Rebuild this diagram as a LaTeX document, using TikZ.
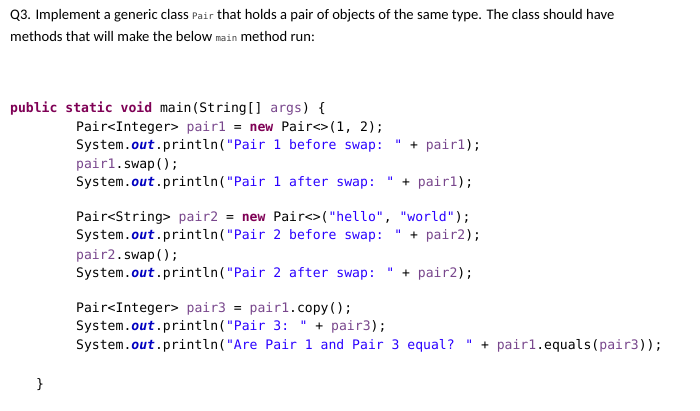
\documentclass[tikz,border=0pt]{standalone}
\usepackage{fontspec}
\setmainfont{Carlito}
\newfontfamily\codefont{DejaVu Sans Mono}
\definecolor{kw}{RGB}{127,0,85}
\definecolor{strc}{RGB}{42,0,255}
\definecolor{varc}{RGB}{120,70,140}
\definecolor{outc}{RGB}{0,0,192}
\newcommand{\K}[1]{\textcolor{kw}{\bfseries #1}}
\newcommand{\Sx}[1]{\textcolor{strc}{#1}}
\newcommand{\V}[1]{\textcolor{varc}{#1}}
\newcommand{\Ox}{\textcolor{outc}{\bfseries\itshape out}}
\tikzset{ln/.style={anchor=base west,inner sep=0pt,font=\codefont\fontsize{13.1pt}{15pt}\selectfont},
hd/.style={anchor=base west,inner sep=0pt,font=\fontsize{14.6pt}{17pt}\selectfont}}
\begin{document}
\begin{tikzpicture}[x=1pt,y=-1pt]
\useasboundingbox[fill=white] (0,0) rectangle (700,411);
\node[hd] (h1) at (10,20) {Q3. Implement a generic class {\codefont\small\color{black!75}Pair} that holds a pair of objects of the same type. The class should have};
\node[hd] (h2) at (10,42) {methods that will make the below {\codefont\small\color{black!75}main} method run:};
\node[ln] (l1) at (10,113) {\K{public} \K{static} \K{void} main(String[] \V{args}) \{};
\node[ln] (l2) at (76,132) {Pair<Integer> \V{pair1} = \K{new} Pair<>(1, 2);};
\node[ln] (l3) at (76,150) {System.\Ox.println(\Sx{"Pair 1 before swap: "} + \V{pair1});};
\node[ln] (l4) at (76,169) {\V{pair1}.swap();};
\node[ln] (l5) at (76,187) {System.\Ox.println(\Sx{"Pair 1 after swap: "} + \V{pair1});};
\node[ln] (l6) at (76,222) {Pair<String> \V{pair2} = \K{new} Pair<>(\Sx{"hello"}, \Sx{"world"});};
\node[ln] (l7) at (76,240) {System.\Ox.println(\Sx{"Pair 2 before swap: "} + \V{pair2});};
\node[ln] (l8) at (76,259) {\V{pair2}.swap();};
\node[ln] (l9) at (76,277) {System.\Ox.println(\Sx{"Pair 2 after swap: "} + \V{pair2});};
\node[ln] (l10) at (76,312) {Pair<Integer> \V{pair3} = \V{pair1}.copy();};
\node[ln] (l11) at (76,330) {System.\Ox.println(\Sx{"Pair 3: "} + \V{pair3});};
\node[ln] (l12) at (76,349) {System.\Ox.println(\Sx{"Are Pair 1 and Pair 3 equal? "} + \V{pair1}.equals(\V{pair3}));};
\node[ln] (l13) at (36,388) {\}};
\end{tikzpicture}
\end{document}
